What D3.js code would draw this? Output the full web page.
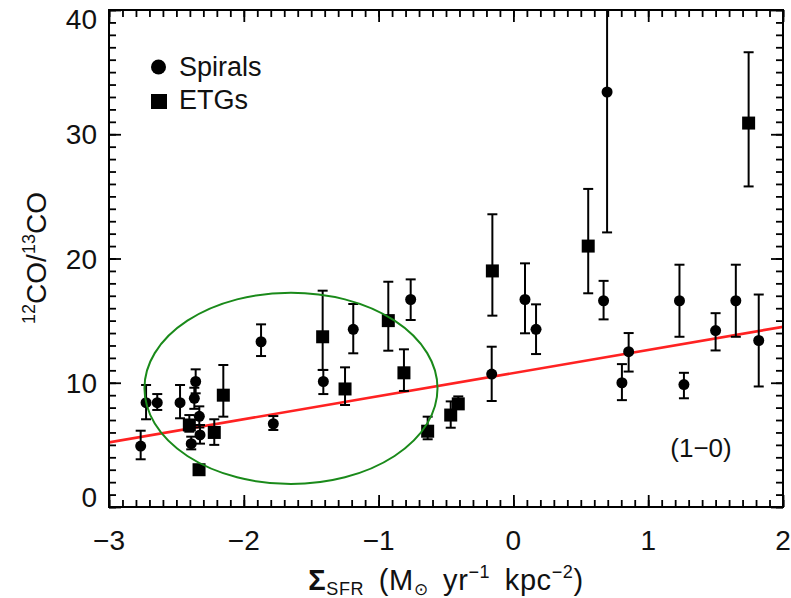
<!DOCTYPE html>
<html><head><meta charset="utf-8">
<script src="https://cdn.jsdelivr.net/npm/d3@7"></script>
<style>body{margin:0;background:#fff} svg{display:block}</style>
</head><body>
<script>
// ---- data ----
const spiralX  = [-2.765,-2.725,-2.642,-2.473,-2.357,-2.367,-2.33,-2.39,-2.325,-1.872,-1.781,-1.41,-1.188,-0.762,-0.161,0.086,0.168,0.695,0.669,0.855,0.805,1.232,1.265,1.50,1.65,1.82];
const spiralY  = [4.9,8.4,8.4,8.4,10.1,8.75,7.3,5.1,5.8,13.3,6.7,10.1,14.3,16.7,10.7,16.7,14.3,33.4,16.6,12.5,10.0,16.6,9.85,14.2,16.6,13.4];
const spiralLo = [3.84,7.06,7.81,7.14,9.15,7.9,6.4,4.64,5.1,12.15,6.2,9.09,12.37,15.05,8.53,13.98,12.31,22.1,15.1,10.9,8.6,13.7,8.75,12.6,13.7,9.7];
const spiralHi = [6.14,9.82,9.09,9.82,11.08,9.6,8.1,5.66,6.6,14.7,7.32,11.03,16.34,18.32,12.9,19.61,16.31,42,18.2,14.0,11.5,19.5,10.8,15.6,19.5,17.1];

const etgX  = [-2.404,-2.332,-2.219,-2.152,-1.415,-1.249,-0.928,-0.812,-0.636,-0.465,-0.409,-0.156,0.555,1.745];
const etgY  = [6.6,3.0,6.0,9.0,13.7,9.5,15.0,10.8,6.1,7.4,8.3,19.0,21.0,30.9];
const etgLo = [6.06,3.0,5.0,7.27,11.03,8.21,12.58,9.34,5.45,6.38,7.9,15.4,17.2,25.8];
const etgHi = [7.4,3.0,7.06,11.43,17.41,11.24,18.13,12.69,7.27,8.5,8.9,23.56,25.6,36.6];

const xTicks = [-3,-2,-1,0,1,2];
const yTicks = [0,10,20,30,40];
const fitX = [-3, 2];
const fitY = [5.2, 14.5];
const ellipseC = [-1.65, 9.55];   // centre (x, y)
const ellipseR = [1.087, 7.70];   // radii in data units
const legendLabels = ["Spirals","ETGs"];
const panelLabel = "(1\u22120)";

// ---- layout ----
const W = 791, H = 598;
const L = 109, R = 783, T = 10, B = 507;
const FONT = "'Liberation Sans', Arial, sans-serif";

const svg = d3.select("body").append("svg").attr("width", W).attr("height", H)
  .style("font-family", FONT);

const x = d3.scaleLinear().domain([-3, 2]).range([L, R]);
const y = d3.scaleLinear().domain([0, 40]).range([B, T]);

svg.append("defs").append("clipPath").attr("id","clip")
  .append("rect").attr("x",L).attr("y",T).attr("width",R-L).attr("height",B-T);

const plot = svg.append("g").attr("clip-path","url(#clip)");

// fit line
plot.append("line")
  .attr("x1", x(fitX[0])).attr("y1", y(fitY[0]))
  .attr("x2", x(fitX[1])).attr("y2", y(fitY[1]))
  .attr("stroke", "#f22").attr("stroke-width", 2.6);

// error bars
function errBars(xs, ys, lo, hi) {
  const g = plot.append("g").attr("stroke","#000").attr("stroke-width",2);
  xs.forEach((xv,i) => {
    if (lo[i] === hi[i]) return;
    g.append("line").attr("x1",x(xv)).attr("x2",x(xv)).attr("y1",y(lo[i])).attr("y2",y(hi[i]));
    g.append("line").attr("x1",x(xv)-5).attr("x2",x(xv)+5).attr("y1",y(lo[i])).attr("y2",y(lo[i]));
    g.append("line").attr("x1",x(xv)-5).attr("x2",x(xv)+5).attr("y1",y(hi[i])).attr("y2",y(hi[i]));
  });
}
errBars(spiralX, spiralY, spiralLo, spiralHi);
errBars(etgX, etgY, etgLo, etgHi);

// markers
plot.append("g").selectAll("circle").data(spiralX).join("circle")
  .attr("cx", d => x(d)).attr("cy", (d,i) => y(spiralY[i])).attr("r", 5.5).attr("fill","#000");
const S = 13;
plot.append("g").selectAll("rect").data(etgX).join("rect")
  .attr("x", d => x(d) - S/2).attr("y", (d,i) => y(etgY[i]) - S/2)
  .attr("width", S).attr("height", S).attr("fill","#000");

// green ellipse
plot.append("ellipse")
  .attr("cx", x(ellipseC[0])).attr("cy", y(ellipseC[1]))
  .attr("rx", x(ellipseC[0] + ellipseR[0]) - x(ellipseC[0]))
  .attr("ry", y(ellipseC[1] - ellipseR[1]) - y(ellipseC[1]))
  .attr("fill","none").attr("stroke","#1a8a1a").attr("stroke-width",2);

// axes: minor + major ticks on all four sides
const xMinor = d3.range(-3, 2.0001, 0.1).map(v => +v.toFixed(2));
const yMinor = d3.range(0, 40.001, 1);
function tickAxis(axisFn, scale, vals, size, tr) {
  const g = svg.append("g").attr("transform", tr)
    .call(axisFn(scale).tickValues(vals).tickSize(size).tickFormat(""));
  g.select(".domain").remove();
  g.selectAll("line").attr("stroke","#000").attr("stroke-width",1.8);
  return g;
}
tickAxis(d3.axisBottom, x, xMinor, -7, `translate(0,${B})`);
tickAxis(d3.axisBottom, x, xTicks, -12, `translate(0,${B})`);
tickAxis(d3.axisTop, x, xMinor, -7, `translate(0,${T})`);
tickAxis(d3.axisTop, x, xTicks, -12, `translate(0,${T})`);
tickAxis(d3.axisLeft, y, yMinor, -7, `translate(${L},0)`);
tickAxis(d3.axisLeft, y, yTicks, -12, `translate(${L},0)`);
tickAxis(d3.axisRight, y, yMinor, -7, `translate(${R},0)`);
tickAxis(d3.axisRight, y, yTicks, -12, `translate(${R},0)`);

// frame
svg.append("rect").attr("x",L).attr("y",T).attr("width",R-L).attr("height",B-T)
  .attr("fill","none").attr("stroke","#000").attr("stroke-width",2);

// tick labels
const fmt = d3.format("d");
svg.append("g").selectAll("text").data(xTicks).join("text")
  .attr("x", d => x(d)).attr("y", 550).attr("text-anchor","middle")
  .attr("font-size", 28).attr("fill","#111").text(d => fmt(d));
svg.append("g").selectAll("text").data(yTicks).join("text")
  .attr("x", 97).attr("y", d => {
     let c = y(d);
     if (d === 0) c -= 10;
     if (d === 40) c += 9;
     return c + 10;
  })
  .attr("text-anchor","end").attr("font-size", 28).attr("fill","#111").text(d => fmt(d));

// x title
const xt = svg.append("text").attr("x", 446).attr("y", 590).attr("text-anchor","middle")
  .attr("font-size", 29).attr("fill","#111").attr("word-spacing", 6).attr("letter-spacing", 0.6);
xt.append("tspan").attr("font-weight","bold").text("\u03A3");
xt.append("tspan").attr("font-size", 18).attr("dy", 5).text("SFR");
xt.append("tspan").attr("dy", -5).text(" (M");
xt.append("tspan").attr("font-size", 17).attr("dy", 5).text("\u2299");
xt.append("tspan").attr("dy", -5).text(" yr");
xt.append("tspan").attr("font-size", 18).attr("dy", -12).text("\u22121");
xt.append("tspan").attr("dy", 12).text(" kpc");
xt.append("tspan").attr("font-size", 18).attr("dy", -12).text("\u22122");
xt.append("tspan").attr("dy", 12).text(")");

// y title
const yt = svg.append("text").attr("transform", "translate(46,258) rotate(-90)")
  .attr("text-anchor","middle").attr("font-size", 28).attr("fill","#111");
yt.append("tspan").attr("font-size", 18).attr("dy", -11).text("12");
yt.append("tspan").attr("dy", 11).text("CO/");
yt.append("tspan").attr("font-size", 18).attr("dy", -11).text("13");
yt.append("tspan").attr("dy", 11).text("CO");

// legend
const lg = svg.append("g");
lg.append("circle").attr("cx", 158.5).attr("cy", 67).attr("r", 7.5).attr("fill","#000");
lg.append("rect").attr("x", 151).attr("y", 94).attr("width", 16).attr("height", 15).attr("fill","#000");
lg.append("text").attr("x", 179).attr("y", 76).attr("font-size", 27).attr("fill","#111").text(legendLabels[0]);
lg.append("text").attr("x", 179).attr("y", 109).attr("font-size", 27).attr("fill","#111").text(legendLabels[1]);

// panel label
svg.append("text").attr("x", 701).attr("y", 457).attr("text-anchor","middle")
  .attr("font-size", 26).attr("fill","#111").text(panelLabel);
</script>
</body></html>
